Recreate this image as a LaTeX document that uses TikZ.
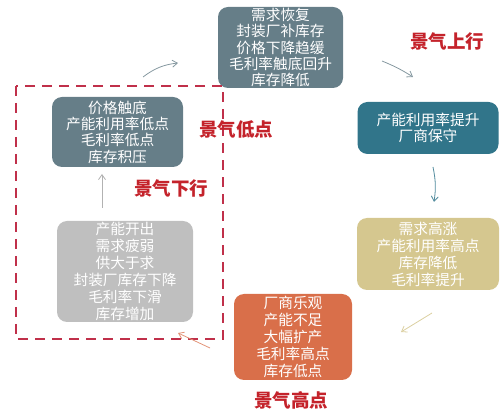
\documentclass[tikz,border=0pt]{standalone}
\usepackage{fontspec}
\setmainfont{Noto Sans CJK SC}
\usetikzlibrary{arrows.meta}
\definecolor{slate}{HTML}{667E88}
\definecolor{tealbox}{HTML}{31758A}
\definecolor{sand}{HTML}{D5C78F}
\definecolor{rust}{HTML}{D96F4A}
\definecolor{lgrey}{HTML}{BFBFBF}
\definecolor{phase}{HTML}{C4232B}
\definecolor{dashred}{HTML}{C0304A}
\tikzset{
  box/.style={rounded corners=10pt, align=center, text=white, inner sep=0pt,
    font=\fontsize{14.7}{16.3}\selectfont},
  phaselabel/.style={text=phase, font=\fontsize{18.5}{20}\selectfont\bfseries},
  flow/.style={-{Straight Barb[length=5pt,width=7pt]}, line width=0.8pt},
}
\begin{document}
\begin{tikzpicture}[x=1pt,y=-1pt]
\useasboundingbox (0,0) rectangle (501,411);
% boxes
\node[box, fill=slate, minimum width=125pt, minimum height=81pt] (b1) at (280.5,47.5)
  {需求恢复\\封装厂补库存\\价格下降趋缓\\毛利率触底回升\\库存降低};
\node[box, fill=tealbox, minimum width=141pt, minimum height=52pt] (b2) at (428,128)
  {产能利用率提升\\厂商保守};
\node[box, fill=sand, minimum width=142pt, minimum height=72pt, font=\fontsize{14.7}{17}\selectfont] (b3) at (428,254)
  {需求高涨\\产能利用率高点\\库存降低\\毛利率提升};
\node[box, fill=rust, minimum width=118pt, minimum height=86pt, font=\fontsize{14.7}{17}\selectfont] (b4) at (293,337)
  {厂商乐观\\产能不足\\大幅扩产\\毛利率高点\\库存低点};
\node[box, fill=slate, minimum width=131pt, minimum height=70pt] (b5) at (117.5,132)
  {价格触底\\产能利用率低点\\毛利率低点\\库存积压};
\node[box, fill=lgrey, minimum width=136pt, minimum height=101pt, font=\fontsize{14.7}{17}\selectfont] (b6) at (125,271.5)
  {产能开出\\需求疲弱\\供大于求\\封装厂库存下降\\毛利率下滑\\库存增加};
% dashed frame
\draw[dashred, line width=2.6pt, dash pattern=on 10pt off 7pt] (16,86) rectangle (223,339);
% phase labels
\node[phaselabel] (l1) at (447,41) {景气上行};
\node[phaselabel] (l2) at (236,129) {景气低点};
\node[phaselabel] (l3) at (171,188) {景气下行};
\node[phaselabel] (l4) at (291,400) {景气高点};
% arrow end points
\coordinate (a1s) at (143,77);  \coordinate (a1e) at (178,63);
\coordinate (a2s) at (382,61);  \coordinate (a2e) at (413,77);
\coordinate (a3s) at (433,167); \coordinate (a3e) at (434,202);
\coordinate (a4s) at (432,313); \coordinate (a4e) at (401,332);
\coordinate (a5s) at (210,348); \coordinate (a5e) at (178,333);
\coordinate (a6s) at (102,208); \coordinate (a6e) at (102,174);
\draw[flow, color=slate!80] (a1s) to[bend left=15] (a1e);
\draw[flow, color=slate!80] (a2s) to[bend left=5] (a2e);
\draw[flow, color=tealbox!85] (a3s) to[bend left=10] (a3e);
\draw[flow, color=sand!85] (a4s) -- (a4e);
\draw[flow, color=rust!75] (a5s) -- (a5e);
\draw[flow, color=gray!60] (a6s) -- (a6e);
\end{tikzpicture}
\end{document}
